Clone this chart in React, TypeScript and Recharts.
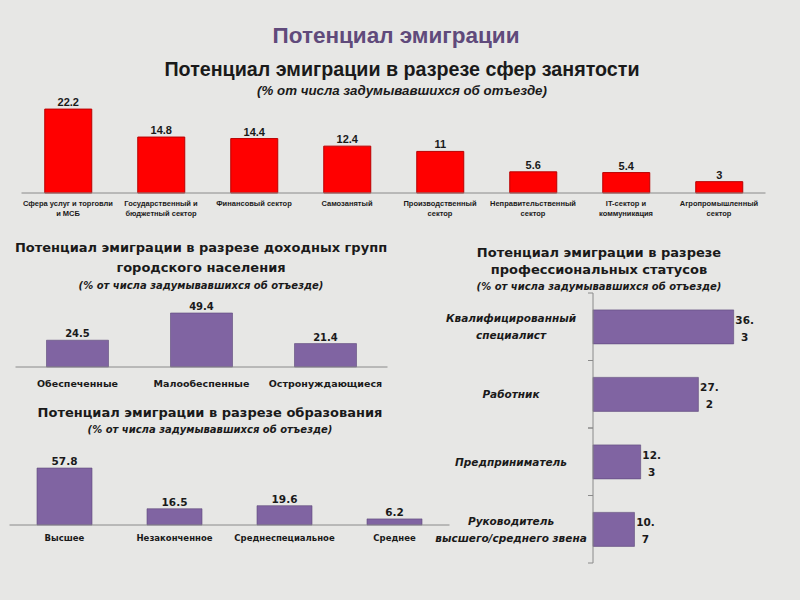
import React from 'react';
import { BarChart, Bar, XAxis, YAxis, LabelList } from 'recharts';

// Сферы занятости
const sectorNames = [
  'Сфера услуг и торговли\nи МСБ',
  'Государственный и\nбюджетный сектор',
  'Финансовый сектор',
  'Самозанятый',
  'Производственный\nсектор',
  'Неправительственный\nсектор',
  'IT-сектор и\nкоммуникация',
  'Агропромышленный\nсектор',
];
const sectorValues = [22.2, 14.8, 14.4, 12.4, 11, 5.6, 5.4, 3];

// Доходные группы
const incomeGroups = ['Обеспеченные', 'Малообеспенные', 'Остронуждающиеся'];
const incomeValues = [24.5, 49.4, 21.4];

// Образование
const educationLevels = ['Высшее', 'Незаконченное', 'Среднеспециальное', 'Среднее'];
const educationValues = [57.8, 16.5, 19.6, 6.2];

// Профессиональные статусы
const statusNames = [
  'Квалифицированный\nспециалист',
  'Работник',
  'Предприниматель',
  'Руководитель\nвысшего/среднего звена',
];
const statusValues = [36.3, 27.2, 12.3, 10.7];

const RED = '#ff0000';
const RED_EDGE = '#b80000';
const PURPLE = '#8064a2';
const PURPLE_EDGE = '#5c4878';
const AXIS = '#8a8a8a';
const TEXT = '#1a1a1a';

const zip = (names: string[], values: number[]) =>
  names.map((name, i) => ({ name, value: values[i] }));

const MultiLineTick = (props: any) => {
  const { x, y, payload, fontSize, fontFamily, fontWeight, fontStyle, lineHeight, dy } = props;
  const lines = String(payload.value).split('\n');
  return (
    <text
      x={x}
      y={y + dy}
      textAnchor="middle"
      fill={TEXT}
      style={{ fontSize, fontFamily, fontWeight, fontStyle }}
    >
      {lines.map((l, i) => (
        <tspan key={i} x={x} dy={i === 0 ? 0 : lineHeight}>
          {l}
        </tspan>
      ))}
    </text>
  );
};

// Excel-like category tick: label centred left of axis, tick marks at band edges
const STATUS_BAND = 270 / statusNames.length;
const StatusTick = (props: any) => {
  const { x, y, payload } = props;
  const lines = String(payload.value).split('\n');
  const start = y - ((lines.length - 1) * 17) / 2;
  const tx = x - 82;
  return (
    <g>
      <line x1={x - 5} x2={x} y1={y - STATUS_BAND / 2} y2={y - STATUS_BAND / 2} stroke={AXIS} />
      <line x1={x - 5} x2={x} y1={y + STATUS_BAND / 2} y2={y + STATUS_BAND / 2} stroke={AXIS} />
      <text
        x={tx}
        y={start}
        textAnchor="middle"
        dominantBaseline="central"
        fill={TEXT}
        style={{ fontSize: 10.5, fontFamily: 'DejaVu Sans', fontWeight: 'bold', fontStyle: 'italic' }}
      >
        {lines.map((l, i) => (
          <tspan key={i} x={tx} dy={i === 0 ? 0 : 17}>
            {l}
          </tspan>
        ))}
      </text>
    </g>
  );
};

const SplitValueLabel = (props: any) => {
  const { x, y, width, height, value } = props;
  const [whole, frac] = String(value).split('.');
  const cx = x + width + 11;
  return (
    <text
      x={cx}
      y={y + height / 2 - 3}
      textAnchor="middle"
      fill={TEXT}
      style={{ fontSize: 10.5, fontFamily: 'DejaVu Sans', fontWeight: 'bold' }}
    >
      <tspan x={cx}>{whole}.</tspan>
      <tspan x={cx} dy={17}>
        {frac}
      </tspan>
    </text>
  );
};

const Title = ({
  cx,
  cy,
  size,
  children,
  style,
}: {
  cx: number;
  cy: number;
  size: number;
  children: React.ReactNode;
  style?: React.CSSProperties;
}) => (
  <div
    style={{
      position: 'absolute',
      left: cx - 300,
      width: 600,
      top: cy - size * 0.6,
      height: size * 1.2,
      lineHeight: `${size * 1.2}px`,
      fontSize: size,
      textAlign: 'center',
      whiteSpace: 'nowrap',
      color: TEXT,
      ...style,
    }}
  >
    {children}
  </div>
);

const sub: React.CSSProperties = {
  fontFamily: 'DejaVu Sans',
  fontWeight: 'bold',
  fontStyle: 'italic',
};
const head: React.CSSProperties = { fontFamily: 'DejaVu Sans', fontWeight: 'bold' };

export default function App() {
  const sectorData = zip(sectorNames, sectorValues);
  const incomeData = zip(incomeGroups, incomeValues);
  const educationData = zip(educationLevels, educationValues);
  const statusData = zip(statusNames, statusValues);

  return (
    <div
      style={{
        position: 'absolute',
        left: 0,
        top: 0,
        width: 800,
        height: 600,
        overflow: 'hidden',
        background: '#e7e7e5',
      }}
    >
      <Title
        cx={396}
        cy={35}
        size={22.5}
        style={{ fontFamily: 'Liberation Sans', fontWeight: 'bold', color: '#604a7b' }}
      >
        Потенциал эмиграции
      </Title>
      <Title cx={402} cy={70} size={19.7} style={{ fontFamily: 'Liberation Sans', fontWeight: 'bold' }}>
        Потенциал эмиграции в разрезе сфер занятости
      </Title>
      <Title
        cx={402}
        cy={91}
        size={13.3}
        style={{ fontFamily: 'Liberation Sans', fontWeight: 'bold', fontStyle: 'italic' }}
      >
        (% от числа задумывавшихся об отъезде)
      </Title>

      {/* Сферы занятости */}
      <div style={{ position: 'absolute', left: 0, top: 90 }}>
        <BarChart
          width={800}
          height={138}
          data={sectorData}
          margin={{ top: 8.5, right: 34.5, left: 21.5, bottom: 5 }}
          barCategoryGap="25%"
        >
          <XAxis
            dataKey="name"
            height={30}
            axisLine={{ stroke: AXIS }}
            tickLine={false}
            interval={0}
            tick={(p: any) => (
              <MultiLineTick
                {...p}
                fontSize={7.5}
                fontFamily="Liberation Sans"
                fontWeight="bold"
                lineHeight={10}
                dy={5}
              />
            )}
          />
          <YAxis hide domain={[0, 25]} />
          <Bar dataKey="value" fill={RED} stroke={RED_EDGE} strokeWidth={1} isAnimationActive={false}>
            <LabelList
              dataKey="value"
              position="top"
              offset={3}
              fill={TEXT}
              style={{ fontSize: 11, fontFamily: 'Liberation Sans', fontWeight: 'bold' }}
            />
          </Bar>
        </BarChart>
      </div>

      {/* Доходные группы */}
      <Title cx={201} cy={248} size={13} style={head}>
        Потенциал эмиграции в разрезе доходных групп
      </Title>
      <Title cx={201} cy={268} size={13} style={head}>
        городского населения
      </Title>
      <Title cx={201} cy={286} size={10} style={sub}>
        (% от числа задумывавшихся об отъезде)
      </Title>
      <div style={{ position: 'absolute', left: 0, top: 295 }}>
        <BarChart
          width={400}
          height={97}
          data={incomeData}
          margin={{ top: 6.4, right: 12.5, left: 15.5, bottom: 0 }}
          barCategoryGap="25%"
        >
          <XAxis
            dataKey="name"
            height={25}
            axisLine={{ stroke: AXIS }}
            tickLine={false}
            interval={0}
            tick={(p: any) => (
              <MultiLineTick
                {...p}
                fontSize={9.5}
                fontFamily="DejaVu Sans"
                fontWeight="bold"
                lineHeight={12}
                dy={12}
              />
            )}
          />
          <YAxis hide domain={[0, 60]} />
          <Bar dataKey="value" fill={PURPLE} stroke={PURPLE_EDGE} strokeWidth={0.6} isAnimationActive={false}>
            <LabelList
              dataKey="value"
              position="top"
              offset={3}
              fill={TEXT}
              style={{ fontSize: 10, fontFamily: 'DejaVu Sans', fontWeight: 'bold' }}
            />
          </Bar>
        </BarChart>
      </div>

      {/* Образование */}
      <Title cx={210} cy={413} size={13} style={head}>
        Потенциал эмиграции в разрезе образования
      </Title>
      <Title cx={210} cy={430} size={10} style={sub}>
        (% от числа задумывавшихся об отъезде)
      </Title>
      <div style={{ position: 'absolute', left: 0, top: 450 }}>
        <BarChart
          width={455}
          height={100}
          data={educationData}
          margin={{ top: 6, right: 5.5, left: 9.5, bottom: 0 }}
          barCategoryGap="25%"
        >
          <XAxis
            dataKey="name"
            height={25}
            axisLine={{ stroke: AXIS }}
            tickLine={false}
            interval={0}
            tick={(p: any) => (
              <MultiLineTick
                {...p}
                fontSize={8.5}
                fontFamily="DejaVu Sans"
                fontWeight="bold"
                lineHeight={11}
                dy={8}
              />
            )}
          />
          <YAxis hide domain={[0, 70]} />
          <Bar dataKey="value" fill={PURPLE} stroke={PURPLE_EDGE} strokeWidth={0.6} isAnimationActive={false}>
            <LabelList
              dataKey="value"
              position="top"
              offset={3}
              fill={TEXT}
              style={{ fontSize: 10.5, fontFamily: 'DejaVu Sans', fontWeight: 'bold' }}
            />
          </Bar>
        </BarChart>
      </div>

      {/* Профессиональные статусы */}
      <Title cx={599} cy={253} size={13} style={head}>
        Потенциал эмиграции в разрезе
      </Title>
      <Title cx={599} cy={270} size={13} style={head}>
        профессиональных статусов
      </Title>
      <Title cx={599} cy={287} size={10} style={sub}>
        (% от числа задумывавшихся об отъезде)
      </Title>
      <div style={{ position: 'absolute', left: 400, top: 290 }}>
        <BarChart
          layout="vertical"
          width={400}
          height={275}
          data={statusData}
          margin={{ top: 3, right: 52, left: 0, bottom: 2 }}
          barCategoryGap="25%"
        >
          <XAxis type="number" hide domain={[0, 40]} />
          <YAxis
            type="category"
            dataKey="name"
            width={193}
            axisLine={{ stroke: AXIS }}
            tickLine={false}
            tickSize={0}
            tickMargin={0}
            interval={0}
            tick={(p: any) => <StatusTick {...p} />}
          />
          <Bar dataKey="value" fill={PURPLE} stroke={PURPLE_EDGE} strokeWidth={0.6} isAnimationActive={false}>
            <LabelList dataKey="value" content={(p: any) => <SplitValueLabel {...p} />} />
          </Bar>
        </BarChart>
      </div>
    </div>
  );
}
